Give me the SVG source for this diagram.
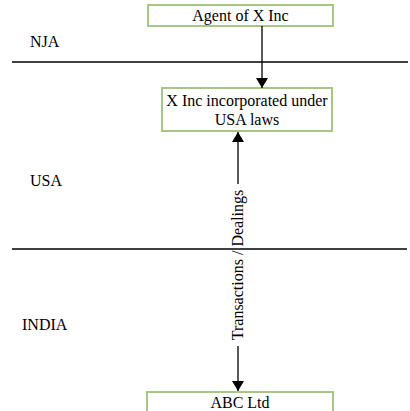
<svg xmlns="http://www.w3.org/2000/svg" width="410" height="411" viewBox="0 0 410 411">
  <style>
    .box { fill: #ffffff; stroke: #a8c683; stroke-width: 2; }
    .txt { font-family: 'Liberation Serif', 'DejaVu Serif', serif; font-size: 16px; fill: #000000; }
    .sep { stroke: #000000; stroke-width: 1.5; }
    .conn { stroke: #000000; stroke-width: 1.3; fill: none; }
  </style>
  <defs>
    <marker id="arrow" viewBox="0 0 10 12" refX="10" refY="6" markerWidth="10" markerHeight="12" markerUnits="userSpaceOnUse" orient="auto-start-reverse">
      <path d="M0,0 L10,6 L0,12 Z" fill="#000000"/>
    </marker>
  </defs>

  <!-- region labels -->
  <g id="regions" font-family="Liberation Serif, serif">
    <text class="txt" x="30" y="47">NJA</text>
    <text class="txt" x="30" y="186">USA</text>
    <text class="txt" x="22" y="330">INDIA</text>
  </g>

  <!-- nodes -->
  <g id="agent" font-family="Liberation Serif, serif">
    <rect class="box" x="148" y="5" width="185" height="21"/>
    <text class="txt" x="240.5" y="21" text-anchor="middle">Agent of X Inc</text>
  </g>
  <g id="xinc" font-family="Liberation Serif, serif">
    <rect class="box" x="162" y="88" width="170" height="43"/>
    <text class="txt" x="247" y="106" text-anchor="middle">X Inc incorporated under</text>
    <text class="txt" x="247" y="125" text-anchor="middle">USA laws</text>
  </g>
  <g id="abc" font-family="Liberation Serif, serif">
    <rect class="box" x="147" y="392" width="186" height="30"/>
    <text class="txt" x="240" y="408" text-anchor="middle">ABC Ltd</text>
  </g>

  <!-- connectors -->
  <g id="connectors" font-family="Liberation Serif, serif">
    <line class="conn" x1="262" y1="26" x2="262" y2="88" marker-end="url(#arrow)"/>
    <line class="conn" x1="238" y1="132" x2="238" y2="391" marker-start="url(#arrow)" marker-end="url(#arrow)"/>
    <rect x="228" y="184" width="20" height="162" fill="#ffffff"/>
    <text class="txt" transform="translate(243,265) rotate(-90)" text-anchor="middle">Transactions / Dealings</text>
  </g>

  <!-- region boundaries -->
  <g id="boundaries">
    <line class="sep" x1="12" y1="62" x2="408" y2="62"/>
    <line class="sep" x1="12" y1="249" x2="407" y2="249"/>
  </g>
</svg>
